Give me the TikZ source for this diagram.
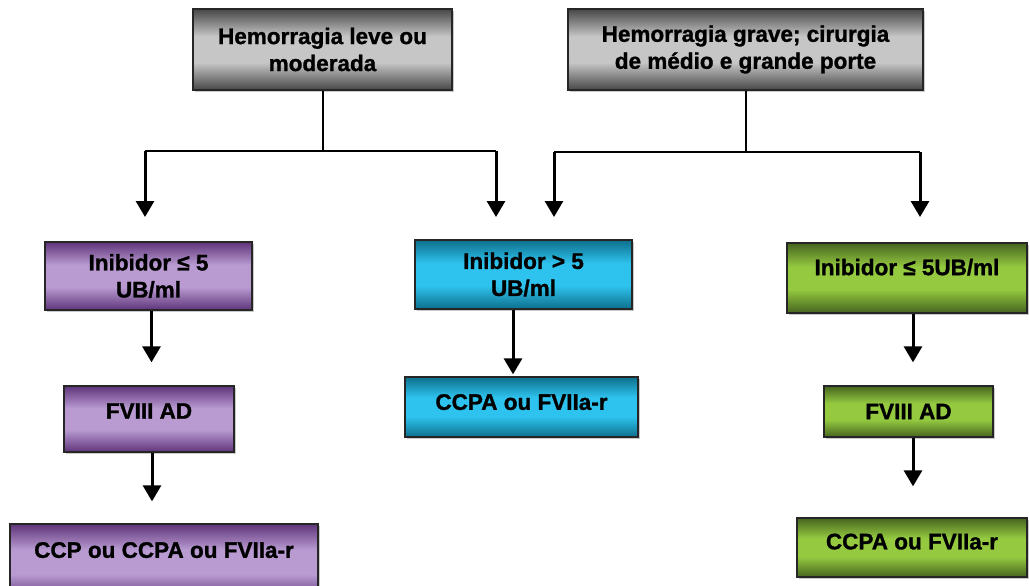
\documentclass[tikz,border=0pt]{standalone}
\usepackage{fontspec}
\setmainfont{Liberation Sans}[BoldFeatures={FakeBold=1.2}]
\usetikzlibrary{arrows.meta,shadows}
\definecolor{purdark}{HTML}{5F3479}
\definecolor{purlight}{HTML}{B99BD2}
\definecolor{cydark}{HTML}{0E6F8C}
\definecolor{cylight}{HTML}{2EC3EE}
\definecolor{grdark}{HTML}{46641F}
\definecolor{grlight}{HTML}{94C940}
\definecolor{gydark}{HTML}{474747}
\definecolor{gylight}{HTML}{C6C6C6}
\pgfdeclareverticalshading{grayshade}{100bp}{color(0bp)=(gydark);color(25bp)=(gydark);color(42bp)=(gylight);color(58bp)=(gylight);color(75bp)=(gydark);color(100bp)=(gydark)}
\pgfdeclareverticalshading{purpleshade}{100bp}{color(0bp)=(purdark);color(25bp)=(purdark);color(42bp)=(purlight);color(58bp)=(purlight);color(75bp)=(purdark);color(100bp)=(purdark)}
\pgfdeclareverticalshading{cyanshade}{100bp}{color(0bp)=(cydark);color(25bp)=(cydark);color(42bp)=(cylight);color(58bp)=(cylight);color(75bp)=(cydark);color(100bp)=(cydark)}
\pgfdeclareverticalshading{greenshade}{100bp}{color(0bp)=(grdark);color(25bp)=(grdark);color(42bp)=(grlight);color(58bp)=(grlight);color(75bp)=(grdark);color(100bp)=(grdark)}
\begin{document}
\begin{tikzpicture}[x=1pt,y=-1pt,
  box/.style={draw=black!85, line width=1.3pt, rectangle, inner sep=0pt, align=center,
    font=\fontsize{22.5}{27}\selectfont\bfseries,
    drop shadow={shadow xshift=2pt, shadow yshift=-2pt, opacity=0.35, fill=black!60}},
  graybox/.style={box, shading=grayshade},
  purbox/.style={box, shading=purpleshade},
  cybox/.style={box, shading=cyanshade},
  grbox/.style={box, shading=greenshade},
  thinline/.style={line width=2pt, black},
  arr/.style={line width=3pt, -{Triangle[width=18pt,length=16pt]}}]
\useasboundingbox (0,0) rectangle (1029,586);
% top boxes
\node[graybox, minimum width=259pt, minimum height=81pt] (g1) at (322.5,49.5) {Hemorragia leve ou\\moderada};
\node[graybox, minimum width=355pt, minimum height=81pt] (g2) at (745.5,49.5) {Hemorragia grave; cirurgia\\de médio e grande porte};
% purple column
\node[purbox, minimum width=207pt, minimum height=68pt] (p1) at (148.5,276) {Inibidor ≤ 5\\UB/ml};
\node[purbox, minimum width=170pt, minimum height=66pt, text depth=16pt] (p2) at (149,419) {FVIII AD};
\node[purbox, minimum width=308pt, minimum height=76pt, text depth=24pt] (p3) at (164,562) {CCP ou CCPA ou FVIIa-r};
% cyan column
\node[cybox, minimum width=217pt, minimum height=69pt] (c1) at (523.5,274.5) {Inibidor > 5\\UB/ml};
\node[cybox, minimum width=233pt, minimum height=60pt, text depth=10pt] (c2) at (521.5,407) {CCPA ou FVIIa-r};
% green column
\node[grbox, minimum width=240pt, minimum height=70pt, text depth=22pt] (r1) at (907,278) {Inibidor ≤ 5UB/ml};
\node[grbox, minimum width=169pt, minimum height=51pt] (r2) at (908.5,411.5) {FVIII AD};
\node[grbox, minimum width=230pt, minimum height=59pt, text depth=12pt] (r3) at (912,547.5) {CCPA ou FVIIa-r};
% junctions
\coordinate (la) at (145,151);
\coordinate (lb) at (496,151);
\coordinate (lae) at (145,217);
\coordinate (lbe) at (496,217);
\coordinate (ra) at (554,152);
\coordinate (rb) at (920,152);
\coordinate (rae) at (554,217);
\coordinate (rbe) at (920,217);
\draw[thinline] (g1.south) -- (g1.south |- la);
\draw[thinline] (la) -- (lb);
\draw[thinline] (g2.south) -- (g2.south |- ra);
\draw[thinline] (ra) -- (rb);
\draw[arr] (la) -- (lae);
\draw[arr] (lb) -- (lbe);
\draw[arr] (ra) -- (rae);
\draw[arr] (rb) -- (rbe);
% column arrows
\draw[arr, shorten >=23pt] ([xshift=3pt]p1.south) -- ([xshift=3pt]p1.south |- p2.north);
\draw[arr, shorten >=22pt] ([xshift=3pt]p2.south) -- ([xshift=3pt]p2.south |- p3.north);
\draw[arr, shorten >=2pt] ([xshift=-10.5pt]c1.south) -- ([xshift=-10.5pt]c1.south |- c2.north);
\draw[arr, shorten >=23pt] ([xshift=6pt]r1.south) -- ([xshift=6pt]r1.south |- r2.north);
\draw[arr, shorten >=31pt] ([xshift=4.5pt]r2.south) -- ([xshift=4.5pt]r2.south |- r3.north);
\end{tikzpicture}
\end{document}
